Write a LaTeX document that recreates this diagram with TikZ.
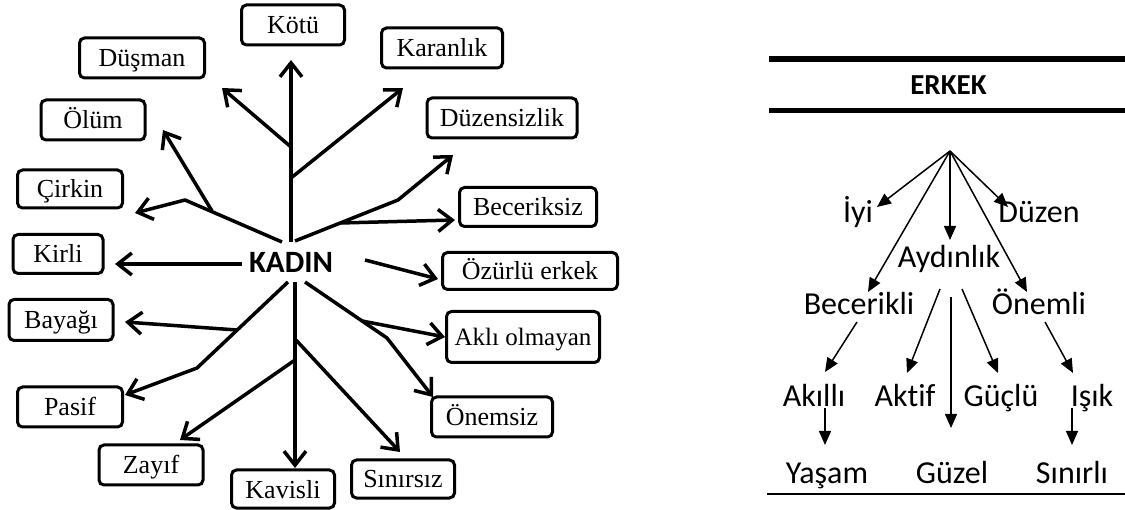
\documentclass[tikz,border=0pt]{standalone}
\usepackage{fontspec}
\newfontfamily\boxfont{Liberation Serif}
\newfontfamily\calfont[Ligatures=NoCommon]{Carlito}
\usetikzlibrary{arrows.meta}
\begin{document}
\begin{tikzpicture}[x=1pt,y=-1pt,
 box/.style={draw, line width=3pt, rounded corners=5pt, font=\boxfont\fontsize{26}{28}\selectfont, inner sep=0pt, text height=18pt, text depth=0pt, minimum height=40pt},
 karr/.style={line width=3.5pt, line join=round, -{Straight Barb[length=14pt,width=22pt]}},
 lab/.style={font=\calfont\fontsize{32}{34}\selectfont, inner sep=0pt, anchor=base},
 tarr/.style={line width=1.5pt, -{Triangle[length=14pt,width=12pt]}},
 rule/.style={line width=#1},
]
\useasboundingbox (0,0) rectangle (1125,510);
% ---------------- left: KADIN ----------------
\node[font=\calfont\bfseries\fontsize{31}{33}\selectfont, inner sep=0pt, anchor=base] (kadin) at (291,273) {KADIN};
\node[box, minimum width=103pt] (kotu) at (293,25) {Kötü};
\node[box, minimum width=125pt] (dusman) at (142,58) {Düşman};
\node[box, minimum width=104pt] (olum) at (93,120) {Ölüm};
\node[box, minimum width=105pt, minimum height=38pt] (cirkin) at (70,189) {Çirkin};
\node[box, minimum width=90pt, minimum height=39pt] (kirli) at (58,254) {Kirli};
\node[box, minimum width=104pt, minimum height=41pt] (bayagi) at (61,320) {Bayağı};
\node[box, minimum width=105pt] (pasif) at (70,407) {Pasif};
\node[box, minimum width=104pt] (zayif) at (151,465) {Zayıf};
\node[box, minimum width=103pt, minimum height=38pt] (kavisli) at (283,489) {Kavisli};
\node[box, minimum width=103pt, minimum height=38pt] (sinirsiz) at (403,479) {Sınırsız};
\node[box, minimum width=121pt] (onemsiz) at (492,417) {Önemsiz};
\node[box, minimum width=153pt, minimum height=51pt, font=\boxfont\fontsize{25}{27}\selectfont] (akli) at (523,337) {Aklı olmayan};
\node[box, minimum width=175pt, minimum height=37pt] (ozurlu) at (530,271) {Özürlü erkek};
\node[box, minimum width=137pt, minimum height=39pt] (beceriksiz) at (528,207) {Beceriksiz};
\node[box, minimum width=150pt] (duzensizlik) at (502,118) {Düzensizlik};
\node[box, minimum width=121pt] (karanlik) at (442,48) {Karanlık};
% connector points
\coordinate (kt) at (291,242);
\coordinate (kb1) at (291,147);
\coordinate (kb2) at (291,178);
\coordinate (tkotu) at (291,60);
\coordinate (tdusman) at (222,88);
\coordinate (tkaranlik) at (403,88);
\coordinate (kl) at (282,242);
\coordinate (cbend) at (185,200);
\coordinate (obr) at (212,211);
\coordinate (tcirkin) at (135,213);
\coordinate (tolum) at (163,130);
\coordinate (kr) at (295,241);
\coordinate (dbend) at (398,200);
\coordinate (bbr) at (340,223);
\coordinate (tduzen) at (453,155);
\coordinate (tbecer) at (455,220);
\coordinate (kw) at (242,264);
\coordinate (tkirli) at (115,264);
\coordinate (ke) at (365,260);
\coordinate (tozurlu) at (438,279);
\coordinate (kdl) at (288,282);
\coordinate (pbend) at (197,368);
\coordinate (bybr) at (237,330);
\coordinate (tpasif) at (125,395);
\coordinate (tbayagi) at (125,322);
\coordinate (kd) at (295,282);
\coordinate (tkavisli) at (295,468);
\coordinate (zbr) at (295,360);
\coordinate (sbr) at (296,340);
\coordinate (tzayif) at (180,440);
\coordinate (tsinirsiz) at (400,452);
\coordinate (kdr) at (305,282);
\coordinate (obend) at (387,338);
\coordinate (abr) at (362,321);
\coordinate (tonemsiz) at (433,397);
\coordinate (takli) at (445,337);
% connectors
\draw[karr] (kt) -- (tkotu);
\draw[karr] (kb1) -- (tdusman);
\draw[karr] (kb2) -- (tkaranlik);
\draw[karr] (kl) -- (cbend) -- (tcirkin);
\draw[karr] (obr) -- (tolum);
\draw[karr] (kr) -- (dbend) -- (tduzen);
\draw[karr] (bbr) -- (tbecer);
\draw[karr] (kw) -- (tkirli);
\draw[karr] (ke) -- (tozurlu);
\draw[karr] (kdl) -- (pbend) -- (tpasif);
\draw[karr] (bybr) -- (tbayagi);
\draw[karr] (kd) -- (tkavisli);
\draw[karr] (zbr) -- (tzayif);
\draw[karr] (sbr) -- (tsinirsiz);
\draw[karr] (kdr) -- (obend) -- (tonemsiz);
\draw[karr] (abr) -- (takli);
% ---------------- right: ERKEK ----------------
\coordinate (r1a) at (769,59);
\coordinate (r1b) at (1125,59);
\coordinate (r2a) at (769,110.5);
\coordinate (r2b) at (1125,110.5);
\coordinate (r3a) at (767,494);
\coordinate (r3b) at (1125,494);
\draw[rule=6pt] (r1a) -- (r1b);
\draw[rule=5pt] (r2a) -- (r2b);
\draw[rule=2.2pt] (r3a) -- (r3b);
\node[font=\calfont\bfseries\fontsize{29}{31}\selectfont, inner sep=0pt, anchor=base] (erkek) at (948.5,95) {ERKEK};
\coordinate (apex) at (950,151);
\node[lab] (iyi) at (858,223) {İyi};
\node[lab] (duzen) at (1039,223) {Düzen};
\node[lab] (aydinlik) at (949,268) {Aydınlık};
\node[lab] (becerikli) at (859,315) {Becerikli};
\node[lab] (onemli) at (1039,315) {Önemli};
\node[lab] (akilli) at (814,407) {Akıllı};
\node[lab] (aktif) at (905,407) {Aktif};
\node[lab] (guclu) at (1001,407) {Güçlü};
\node[lab] (isik) at (1092,407) {Işık};
\node[lab] (yasam) at (827,483) {Yaşam};
\node[lab] (guzel) at (952,483) {Güzel};
\node[lab] (sinirli) at (1072,483) {Sınırlı};
\draw[tarr] (apex) -- (877,207) coordinate (tiyi);
\draw[tarr] (apex) -- (950,240) coordinate (tayd);
\draw[tarr] (apex) -- (1008,207) coordinate (tduz);
\draw[tarr] (apex) -- (868,292) coordinate (tbec);
\draw[tarr] (apex) -- (1027,292) coordinate (tone);
\coordinate (sbec) at (857,322);
\coordinate (sak) at (940,289);
\coordinate (sgu) at (951,297);
\coordinate (sgc) at (962,289);
\coordinate (son) at (1045,322);
\coordinate (sakl) at (825,408);
\coordinate (sisk) at (1072,408);
\draw[tarr] (sbec) -- (825,372) coordinate (takl);
\draw[tarr] (sak) -- (907,373) coordinate (takt);
\draw[tarr] (sgu) -- (951,428) coordinate (tguz);
\draw[tarr] (sgc) -- (998,373) coordinate (tguc);
\draw[tarr] (son) -- (1073,373) coordinate (tisk);
\draw[tarr] (sakl) -- (825,445) coordinate (tyas);
\draw[tarr] (sisk) -- (1072,445) coordinate (tsin);
\end{tikzpicture}
\end{document}
